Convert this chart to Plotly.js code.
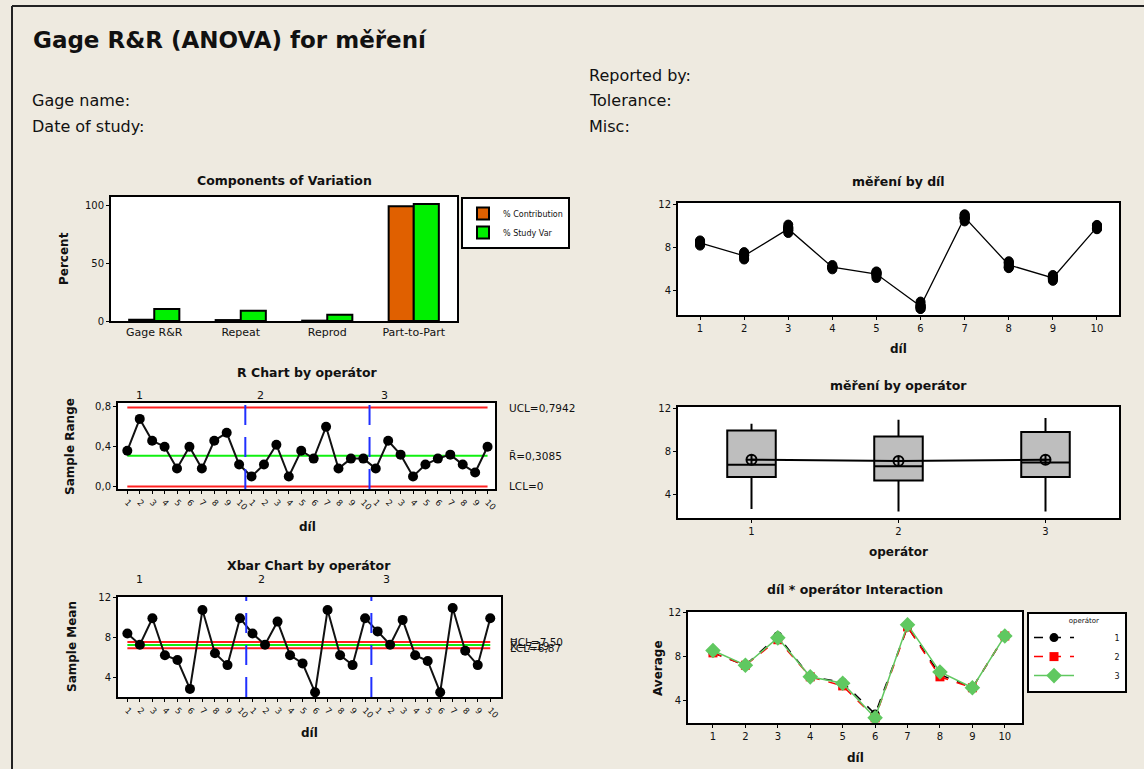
<!DOCTYPE html>
<html>
<head>
<meta charset="utf-8">
<script src="https://cdn.plot.ly/plotly-3.0.1.min.js"></script>
<style>html,body{margin:0;padding:0;background:#EEEAE0;}#chart{width:1144px;height:769px;}</style>
</head>
<body>
<div id="chart"></div>
<script>
// ---------------- data ----------------
const covCategories = ['Gage R&R', 'Repeat', 'Reprod', 'Part-to-Part'];
const pctContribution = [1.1, 0.8, 0.3, 99.0];
const pctStudyVar = [10.3, 8.8, 5.5, 101.0];

const parts = [1, 2, 3, 4, 5, 6, 7, 8, 9, 10];
const operators = [1, 2, 3];

const rOp1 = [0.36, 0.68, 0.46, 0.40, 0.18, 0.40, 0.18, 0.46, 0.54, 0.22];
const rOp2 = [0.10, 0.22, 0.42, 0.10, 0.36, 0.28, 0.60, 0.18, 0.28, 0.28];
const rOp3 = [0.18, 0.46, 0.32, 0.10, 0.22, 0.28, 0.32, 0.22, 0.14, 0.40];
const rBar = 0.3085, rUCL = 0.7942, rLCL = 0;

const xbarOp1 = [8.35, 7.23, 9.88, 6.18, 5.70, 2.81, 10.70, 6.38, 5.19, 9.88];
const xbarOp2 = [8.35, 7.23, 9.54, 6.18, 5.36, 2.47, 10.70, 6.18, 5.19, 9.88];
const xbarOp3 = [8.56, 7.23, 9.71, 6.18, 5.60, 2.47, 10.90, 6.62, 5.19, 9.88];
const xbarMean = 7.19, xbarUCL = 7.50, xbarLCL = 6.87;

// individual measurements (3 trials per part) per operator
const mereniOp1 = [8.17,8.53,8.35, 6.89,7.57,7.23, 9.65,10.11,9.88, 5.98,6.38,6.18, 5.61,5.79,5.70, 2.61,3.01,2.81, 10.61,10.79,10.70, 6.15,6.61,6.38, 4.92,5.46,5.19, 9.77,9.99,9.88];
const mereniOp2 = [8.30,8.40,8.35, 7.12,7.34,7.23, 9.33,9.75,9.54, 6.13,6.23,6.18, 5.18,5.54,5.36, 2.33,2.61,2.47, 10.40,11.00,10.70, 6.09,6.27,6.18, 5.05,5.33,5.19, 9.74,10.02,9.88];
const mereniOp3 = [8.47,8.65,8.56, 7.00,7.46,7.23, 9.55,9.87,9.71, 6.13,6.23,6.18, 5.49,5.71,5.60, 2.33,2.61,2.47, 10.74,11.06,10.90, 6.51,6.73,6.62, 5.12,5.26,5.19, 9.68,10.08,9.88];
const partMeans = [8.42, 7.23, 9.71, 6.18, 5.55, 2.58, 10.77, 6.39, 5.19, 9.88];

const boxQ1 = [5.63, 5.32, 5.63];
const boxMedian = [6.77, 6.62, 6.98];
const boxQ3 = [9.94, 9.38, 9.78];
const boxLow = [2.68, 2.46, 2.46];
const boxHigh = [10.55, 10.92, 11.08];
const opMeans = [7.23, 7.11, 7.23];

// ---------------- helpers ----------------
const W = 1144, H = 769;
const px = x => x / W, py = y => 1 - y / H;
const F = 'DejaVu Sans';
const TXT = '#111';
const pad = '\u00a0'.repeat(14);

const seqIdx = [], seqText = [];
[1, 2, 3].forEach(() => parts.forEach(p => { seqIdx.push(seqIdx.length + 1); seqText.push(String(p)); }));
const rAll = rOp1.concat(rOp2, rOp3);
const xbarAll = xbarOp1.concat(xbarOp2, xbarOp3);
const firstLast = [seqIdx[0], seqIdx[seqIdx.length - 1]];

const measX = [], measY = [];
[mereniOp1, mereniOp2, mereniOp3].forEach(arr => arr.forEach((v, i) => { measX.push(parts[Math.floor(i / 3)]); measY.push(v); }));

function ax(domain, range, extra) {
  return Object.assign({
    domain: domain, range: range, showline: true, mirror: true, linecolor: '#000', linewidth: 2,
    ticks: 'outside', ticklen: 3, tickwidth: 1, tickcolor: '#000', showgrid: false, zeroline: false,
    tickfont: {family: F, size: 10, color: TXT}, fixedrange: true
  }, extra || {});
}

const lineRed = {color: '#FF2020', width: 2};
const lineGreen = {color: '#10F010', width: 2};

const traces = [
  // Components of variation
  {type: 'bar', x: covCategories, y: pctContribution, name: '% Contribution', xaxis: 'x', yaxis: 'y',
   marker: {color: '#E06000', line: {color: '#000', width: 2}}, legend: 'legend'},
  {type: 'bar', x: covCategories, y: pctStudyVar, name: '% Study Var', xaxis: 'x', yaxis: 'y',
   marker: {color: '#00F000', line: {color: '#000', width: 2}}, legend: 'legend'},
  // R chart
  {type: 'scatter', mode: 'lines', x: firstLast, y: [rUCL, rUCL], xaxis: 'x2', yaxis: 'y2', line: lineRed, showlegend: false, hoverinfo: 'skip'},
  {type: 'scatter', mode: 'lines', x: firstLast, y: [rLCL, rLCL], xaxis: 'x2', yaxis: 'y2', line: lineRed, showlegend: false, hoverinfo: 'skip'},
  {type: 'scatter', mode: 'lines', x: firstLast, y: [rBar, rBar], xaxis: 'x2', yaxis: 'y2', line: lineGreen, showlegend: false, hoverinfo: 'skip'},
  {type: 'scatter', mode: 'lines+markers', x: seqIdx, y: rAll, xaxis: 'x2', yaxis: 'y2',
   line: {color: '#111', width: 2}, marker: {color: '#000', size: 10}, showlegend: false},
  // Xbar chart
  {type: 'scatter', mode: 'lines', x: firstLast, y: [xbarUCL, xbarUCL], xaxis: 'x3', yaxis: 'y3', line: lineRed, showlegend: false, hoverinfo: 'skip'},
  {type: 'scatter', mode: 'lines', x: firstLast, y: [xbarLCL, xbarLCL], xaxis: 'x3', yaxis: 'y3', line: lineRed, showlegend: false, hoverinfo: 'skip'},
  {type: 'scatter', mode: 'lines', x: firstLast, y: [xbarMean, xbarMean], xaxis: 'x3', yaxis: 'y3', line: lineGreen, showlegend: false, hoverinfo: 'skip'},
  {type: 'scatter', mode: 'lines+markers', x: seqIdx, y: xbarAll, xaxis: 'x3', yaxis: 'y3',
   line: {color: '#111', width: 2}, marker: {color: '#000', size: 10}, showlegend: false},
  // měření by díl
  {type: 'scatter', mode: 'lines', x: parts, y: partMeans, xaxis: 'x4', yaxis: 'y4', line: {color: '#000', width: 1.3}, showlegend: false},
  {type: 'scatter', mode: 'markers', x: measX, y: measY, xaxis: 'x4', yaxis: 'y4',
   marker: {color: '#000', size: 9, line: {color: '#000', width: 1}}, showlegend: false},
  // měření by operátor
  {type: 'box', x: operators, q1: boxQ1, median: boxMedian, q3: boxQ3, lowerfence: boxLow, upperfence: boxHigh,
   xaxis: 'x5', yaxis: 'y5', width: 0.33, whiskerwidth: 0, fillcolor: '#BEBEBE', line: {color: '#000', width: 2},
   showlegend: false, boxpoints: false},
  {type: 'scatter', mode: 'lines+markers', x: operators, y: opMeans, xaxis: 'x5', yaxis: 'y5',
   line: {color: '#000', width: 2}, marker: {symbol: 'circle-cross-open', color: '#000', size: 10, line: {width: 2}}, showlegend: false},
  // Interaction
  {type: 'scatter', mode: 'lines+markers', x: parts, y: xbarOp1, name: pad + '1', xaxis: 'x6', yaxis: 'y6', legend: 'legend2',
   line: {color: '#000', width: 1.5, dash: 'dash'}, marker: {symbol: 'circle', color: '#000', size: 9}},
  {type: 'scatter', mode: 'lines+markers', x: parts, y: xbarOp2, name: pad + '2', xaxis: 'x6', yaxis: 'y6', legend: 'legend2',
   line: {color: '#FF0000', width: 1.5, dash: 'dash'}, marker: {symbol: 'square', color: '#FF0000', size: 9}},
  {type: 'scatter', mode: 'lines+markers', x: parts, y: xbarOp3, name: pad + '3', xaxis: 'x6', yaxis: 'y6', legend: 'legend2',
   line: {color: '#60C860', width: 1.5}, marker: {symbol: 'diamond', color: '#60C860', size: 12}}
];

const ann = [];
function txt(text, x, y, opts) {
  ann.push(Object.assign({text: text, x: px(x), y: py(y), xref: 'paper', yref: 'paper', showarrow: false,
    xanchor: 'center', yanchor: 'middle', font: {family: F, size: 11, color: TXT}}, opts || {}));
}
// header
const hdr = {family: F, size: 16, color: TXT};
txt('<b>Gage R&R (ANOVA) for měření</b>', 31, 40, {xanchor: 'left', font: {family: F, size: 23, color: TXT}});
txt('Gage name:', 30, 101, {xanchor: 'left', font: hdr});
txt('Date of study:', 30, 126, {xanchor: 'left', font: hdr});
txt('Reported by:', 587, 76, {xanchor: 'left', font: hdr});
txt('Tolerance:', 587, 101, {xanchor: 'left', font: hdr});
txt('Misc:', 587, 126, {xanchor: 'left', font: hdr});
// panel titles
const bold = {family: F, size: 12.5, color: TXT};
txt('<b>Components of Variation</b>', 284, 180, {font: bold});
txt('<b>R Chart by operátor</b>', 307, 372, {font: bold});
txt('<b>Xbar Chart by operátor</b>', 309, 565, {font: bold});
txt('<b>měření by díl</b>', 898, 181, {font: bold});
txt('<b>měření by operátor</b>', 898, 385, {font: bold});
txt('<b>díl * operátor Interaction</b>', 855, 589, {font: bold});
// axis titles
const axt = {family: F, size: 12, color: TXT};
txt('<b>Percent</b>', 64, 259, {textangle: -90, font: axt});
txt('<b>Sample Range</b>', 70, 447, {textangle: -90, font: axt});
txt('<b>díl</b>', 307, 527, {font: axt});
txt('<b>Sample Mean</b>', 72, 647, {textangle: -90, font: axt});
txt('<b>díl</b>', 309, 733, {font: axt});
txt('<b>díl</b>', 898, 349, {font: axt});
txt('<b>operátor</b>', 898, 552, {font: axt});
txt('<b>Average</b>', 658, 668, {textangle: -90, font: axt});
txt('<b>díl</b>', 855, 758, {font: axt});
// operator group labels above R and Xbar charts
const groupPos = [2, 11.7, 21.7];
['1', '2', '3'].forEach((t, i) => {
  ann.push({text: t, x: groupPos[i], xref: 'x2', y: py(395), yref: 'paper', showarrow: false, font: {family: F, size: 11, color: TXT}});
  ann.push({text: t, x: groupPos[i], xref: 'x3', y: py(588), yref: 'paper', showarrow: false, font: {family: F, size: 11, color: TXT}});
});
// control limit labels
const lim = {family: F, size: 10.5, color: TXT};
ann.push({text: 'UCL=0,7942', x: px(507), xref: 'paper', y: rUCL, yref: 'y2', xanchor: 'left', showarrow: false, font: lim});
ann.push({text: 'R\u0304=0,3085', x: px(507), xref: 'paper', y: rBar, yref: 'y2', xanchor: 'left', showarrow: false, font: lim});
ann.push({text: 'LCL=0', x: px(507), xref: 'paper', y: rLCL, yref: 'y2', xanchor: 'left', showarrow: false, font: lim});
ann.push({text: 'UCL=7,50', x: px(508), xref: 'paper', y: xbarUCL, yref: 'y3', xanchor: 'left', showarrow: false, font: lim});
ann.push({text: 'X\u033F=7,19', x: px(508), xref: 'paper', y: xbarMean, yref: 'y3', xanchor: 'left', showarrow: false, font: lim});
ann.push({text: 'LCL=6,87', x: px(508), xref: 'paper', y: xbarLCL, yref: 'y3', xanchor: 'left', showarrow: false, font: lim});

const shapes = [
  {type: 'line', xref: 'paper', yref: 'paper', x0: px(12), x1: 1, y0: py(6), y1: py(6), line: {color: '#222', width: 2}},
  {type: 'line', xref: 'paper', yref: 'paper', x0: px(12), x1: px(12), y0: py(6), y1: 0, line: {color: '#222', width: 2}}
];
[10.5, 20.5].forEach(v => {
  shapes.push({type: 'line', xref: 'x2', yref: 'y2 domain', x0: v, x1: v, y0: 0, y1: 1, line: {color: '#2030FF', width: 2, dash: '20px,12px'}});
  shapes.push({type: 'line', xref: 'x3', yref: 'y3 domain', x0: v, x1: v, y0: 0, y1: 1, line: {color: '#2030FF', width: 2, dash: '20px,12px'}});
});

const seqAxis = {tickvals: seqIdx, ticktext: seqText, tickangle: 45, tickfont: {family: F, size: 8.5, color: TXT}};

const layout = {
  width: W, height: H, margin: {l: 0, r: 0, t: 0, b: 0},
  paper_bgcolor: '#EEEAE0', plot_bgcolor: '#FFFFFF',
  font: {family: F, color: TXT},
  barmode: 'group', bargap: 0.42, bargroupgap: 0,
  xaxis: ax([px(111), px(457)], [-0.5, 3.5], {type: 'category', anchor: 'y', ticks: '', tickfont: {family: F, size: 11, color: TXT}}),
  yaxis: ax([py(321), py(197)], [0, 107], {anchor: 'x', tickvals: [0, 50, 100]}),
  xaxis2: ax([px(118), px(495)], [0.25, 30.6], Object.assign({anchor: 'y2'}, seqAxis)),
  yaxis2: ax([py(489), py(403)], [-0.026, 0.84], {anchor: 'x2', tickvals: [0, 0.4, 0.8], ticktext: ['0,0', '0,4', '0,8']}),
  xaxis3: ax([px(118), px(501)], [0.25, 30.86], Object.assign({anchor: 'y3'}, seqAxis)),
  yaxis3: ax([py(697), py(597)], [2, 12], {anchor: 'x3', tickvals: [4, 8, 12]}),
  xaxis4: ax([px(678), px(1119)], [0.5, 10.5], {anchor: 'y4', tickvals: parts}),
  yaxis4: ax([py(315), py(203)], [1.77, 12.1], {anchor: 'x4', tickvals: [4, 8, 12]}),
  xaxis5: ax([px(678), px(1119)], [0.5, 3.5], {anchor: 'y5', tickvals: operators}),
  yaxis5: ax([py(518), py(407)], [1.85, 12.1], {anchor: 'x5', tickvals: [4, 8, 12]}),
  xaxis6: ax([px(688), px(1022)], [0.23, 10.53], {anchor: 'y6', tickvals: parts}),
  yaxis6: ax([py(723), py(612)], [2, 12.05], {anchor: 'x6', tickvals: [4, 8, 12]}),
  legend: {x: px(461), y: py(197), xanchor: 'left', yanchor: 'top', bgcolor: '#FFFFFF', bordercolor: '#000', borderwidth: 2,
    font: {family: F, size: 8, color: TXT}, tracegroupgap: 0, itemwidth: 30, traceorder: 'normal'},
  legend2: {x: px(1027), y: py(612), xanchor: 'left', yanchor: 'top', bgcolor: '#FFFFFF', bordercolor: '#000', borderwidth: 2,
    font: {family: F, size: 8, color: TXT}, title: {text: pad + '\u00a0\u00a0\u00a0operátor', side: 'top', font: {family: F, size: 7, color: TXT}},
    itemwidth: 40, traceorder: 'normal'},
  annotations: ann,
  shapes: shapes
};

Plotly.newPlot('chart', traces, layout, {staticPlot: true, displayModeBar: false});
</script>
</body>
</html>
